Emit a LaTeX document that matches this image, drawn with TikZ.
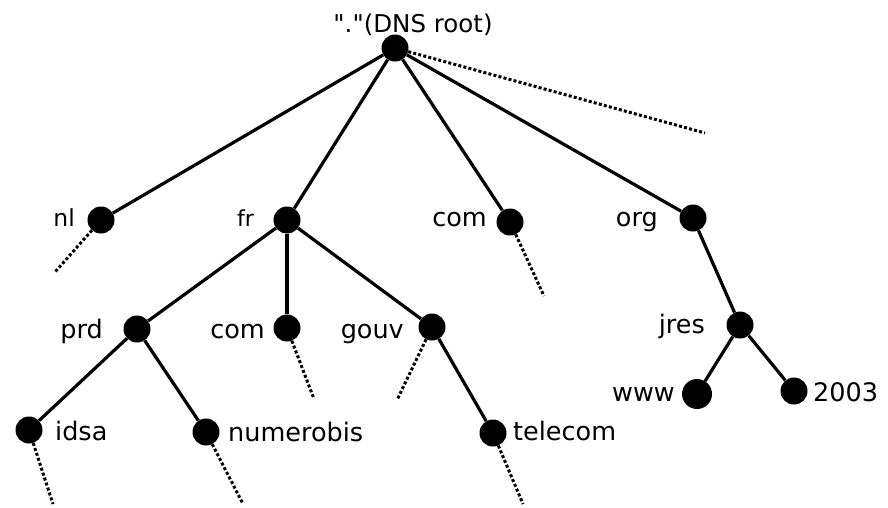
\documentclass[tikz,border=0pt]{standalone}
\usepackage{fontspec}
\setmainfont{DejaVu Sans}[Ligatures=TeXOff]
\begin{document}
\begin{tikzpicture}[x=1pt,y=-1pt,
  dot/.style={circle,fill=black,inner sep=0pt,minimum size=27pt},
  link/.style={line width=3.2pt},
  more/.style={line width=3pt,dash pattern=on 3pt off 2.2pt},
  lbl/.style={inner sep=0pt,font=\fontsize{25.5}{30}\selectfont}]
\useasboundingbox (0,0) rectangle (888,507);
% tree nodes
\node[dot] (root) at (395,48) {};
\node[dot] (nl) at (101,220) {};
\node[dot] (fr) at (287,220) {};
\node[dot] (com) at (510,222) {};
\node[dot] (org) at (693,218) {};
\node[dot] (prd) at (137,329) {};
\node[dot] (frcom) at (287,328) {};
\node[dot] (gouv) at (432,327) {};
\node[dot] (idsa) at (29,430) {};
\node[dot] (numerobis) at (206,432) {};
\node[dot] (telecom) at (493,433) {};
\node[dot] (jres) at (740,325) {};
\node[dot,minimum size=30pt] (www) at (697,394) {};
\node[dot] (y2003) at (794,391) {};
% open ends of truncated branches
\coordinate (rootmore) at (705,133);
\coordinate (nlmore) at (55,272);
\coordinate (commore) at (544,296);
\coordinate (frcommore) at (314,399);
\coordinate (gouvmore) at (397,400);
\coordinate (idsamore) at (53,504);
\coordinate (numerobismore) at (243,504);
\coordinate (telecommore) at (523,504);
% labels
\node[lbl,anchor=base,font=\fontsize{24.5}{29}\selectfont] (lroot) at (413,32) {"."(DNS root)};
\node[lbl,anchor=base east,font=\fontsize{23.5}{28}\selectfont] (lnl) at (75,226) {nl};
\node[lbl,anchor=base east,font=\fontsize{22}{26}\selectfont] (lfr) at (254,226) {fr};
\node[lbl,anchor=base east] (lcom) at (487,226) {com};
\node[lbl,anchor=base east] (lorg) at (658,226) {org};
\node[lbl,anchor=base east] (lprd) at (103,338) {prd};
\node[lbl,anchor=base east] (lfrcom) at (265,338) {com};
\node[lbl,anchor=base east] (lgouv) at (404,338) {gouv};
\node[lbl,anchor=base west] (lidsa) at (55,440) {idsa};
\node[lbl,anchor=base west] (lnumerobis) at (228,441) {numerobis};
\node[lbl,anchor=base west] (ltelecom) at (513,440) {telecom};
\node[lbl,anchor=base east] (ljres) at (705,333) {jres};
\node[lbl,anchor=base east] (lwww) at (675,401) {www};
\node[lbl,anchor=base west] (l2003) at (813,401) {2003};
% solid links
\draw[link] (root) -- (nl);
\draw[link] (root) -- (fr);
\draw[link] (root) -- (com);
\draw[link] (root) -- (org);
\draw[link] (fr) -- (prd);
\draw[link] (fr) -- (frcom);
\draw[link] (fr) -- (gouv);
\draw[link] (prd) -- (idsa);
\draw[link] (prd) -- (numerobis);
\draw[link] (gouv) -- (telecom);
\draw[link] (org) -- (jres);
\draw[link] (jres) -- (www);
\draw[link] (jres) -- (y2003);
% dotted continuations
\draw[more] (root) -- (rootmore);
\draw[more] (nl) -- (nlmore);
\draw[more] (com) -- (commore);
\draw[more] (frcom) -- (frcommore);
\draw[more] (gouv) -- (gouvmore);
\draw[more] (idsa) -- (idsamore);
\draw[more] (numerobis) -- (numerobismore);
\draw[more] (telecom) -- (telecommore);
\end{tikzpicture}
\end{document}
